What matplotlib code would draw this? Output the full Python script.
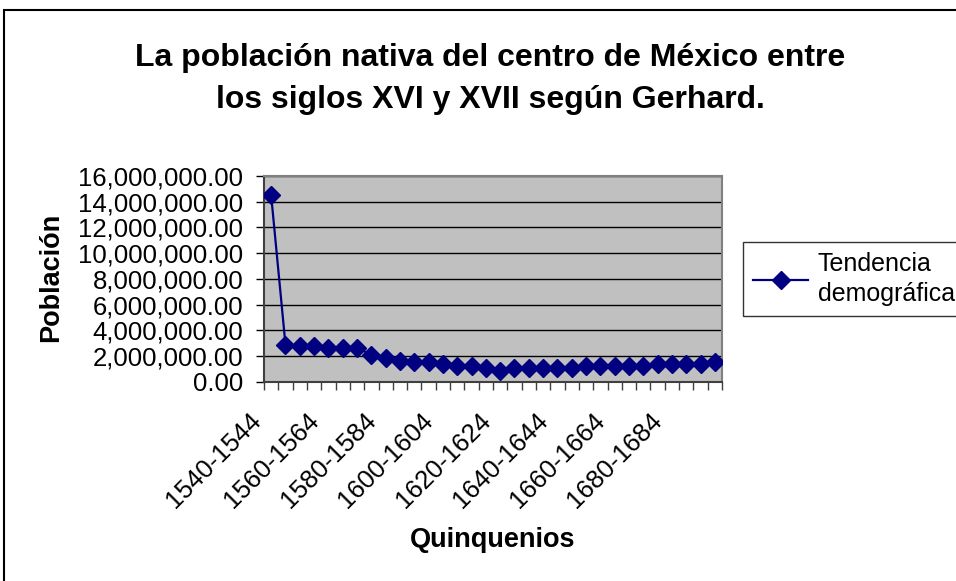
import matplotlib.pyplot as plt
from matplotlib.patches import Rectangle
from matplotlib.ticker import FuncFormatter, FixedLocator

# quinquenios 1540-1544 ... 1695-1699
quinquenios = [f"{a}-{a + 4}" for a in range(1540, 1700, 5)]
poblacion_mill = [14.49, 2.88, 2.78, 2.78, 2.65, 2.65, 2.65, 2.08, 1.82, 1.64,
                  1.51, 1.56, 1.35, 1.22, 1.22, 1.04, 0.86, 1.04, 1.04, 1.04,
                  1.04, 1.04, 1.22, 1.22, 1.22, 1.22, 1.22, 1.37, 1.37, 1.37,
                  1.37, 1.53]
poblacion = [v * 1e6 for v in poblacion_mill]
yticks = list(range(0, 16000001, 2000000))

plt.rcParams['font.family'] = ['Liberation Sans', 'DejaVu Sans']

W, H = 956, 581
fig = plt.figure(figsize=(W / 100, H / 100), dpi=100)
fig.patch.set_facecolor('white')

# outer chart frame
fig.patches.append(Rectangle((4 / W, -0.01), 1.0, (H - 10) / H + 0.01,
                             transform=fig.transFigure, fill=False,
                             edgecolor='black', linewidth=1.5))

ax = fig.add_axes([264 / W, 1 - 381.7 / H, 458 / W, 205.7 / H])
ax.set_facecolor('#C0C0C0')

x = list(range(len(quinquenios)))
ax.plot(x, poblacion, color='#000080', linewidth=1.6, marker='D',
        markersize=9, label='Tendencia\ndemográfica', zorder=3)

ax.set_xlim(-0.5, len(quinquenios) - 0.5)
ax.set_ylim(0, 16000000)
ax.set_yticks(yticks)
ax.yaxis.set_major_formatter(FuncFormatter(lambda v, p: f"{v:,.2f}"))
ax.yaxis.grid(True, color='black', linewidth=1)
ax.set_axisbelow(True)

# ticks between categories, labels every fourth category
ax.xaxis.set_major_locator(FixedLocator([i - 0.5 for i in range(len(quinquenios) + 1)]))
ax.set_xticklabels([])
ax.tick_params(axis='x', which='major', length=6, width=1, color='#404040')
ax.tick_params(axis='y', length=6, width=1, labelsize=18.5, pad=9)
for i in range(0, len(quinquenios), 4):
    ax.text(i - 0.95, -0.17, quinquenios[i], transform=ax.get_xaxis_transform(),
            rotation=45, ha='right', va='center', rotation_mode='anchor',
            fontsize=18.5)

for s in ax.spines.values():
    s.set_color('#808080')
    s.set_linewidth(1.5)
ax.spines['left'].set_color('#404040')
ax.spines['bottom'].set_color('#404040')

fig.text(51 / W, 1 - 277 / H, 'Población', ha='center', va='center',
         rotation=90, fontsize=19.5, fontweight='bold')
fig.text(493 / W, 1 - 540 / H, 'Quinquenios', ha='center', va='center',
         fontsize=19.5, fontweight='bold')
fig.text(490 / W, 1 - 79 / H,
         'La población nativa del centro de México entre\nlos siglos XVI y XVII según Gerhard.',
         ha='center', va='center', fontsize=23, fontweight='bold',
         linespacing=1.5)

leg = fig.legend(loc='upper left', bbox_to_anchor=(743 / W, 1 - 242 / H),
                 fontsize=18, frameon=True, fancybox=False, borderpad=0.4,
                 handlelength=2.2, handletextpad=0.4, borderaxespad=0)
leg.get_texts()[0].set_linespacing(1.3)
leg.get_frame().set_edgecolor('black')
leg.get_frame().set_linewidth(1)

fig.savefig('out.png', dpi=100)
